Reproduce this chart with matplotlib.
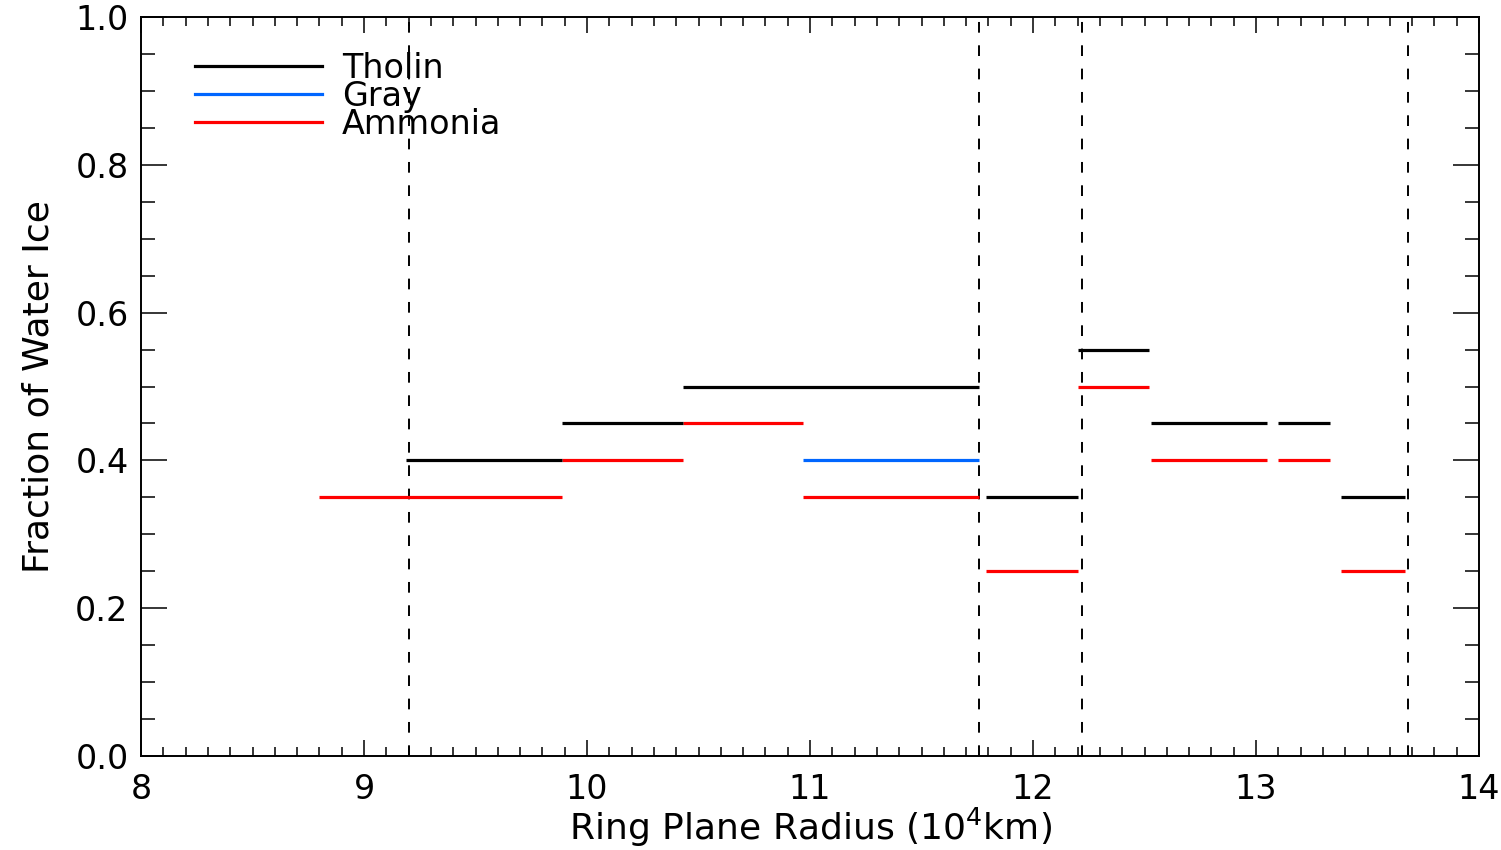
import matplotlib
matplotlib.use("Agg")
import matplotlib.pyplot as plt
from matplotlib.ticker import MultipleLocator
from matplotlib.lines import Line2D

plt.rcParams['font.family'] = ['DejaVu Sans']
plt.rcParams['mathtext.default'] = 'regular'

# segments: start radius, end radius, fraction of water ice
tholin_start = [9.19, 9.89, 10.43, 11.79, 12.20, 12.53, 13.10, 13.38]
tholin_end = [9.89, 10.43, 11.76, 12.20, 12.52, 13.05, 13.33, 13.67]
tholin_val = [0.40, 0.45, 0.50, 0.35, 0.55, 0.45, 0.45, 0.35]

gray_start = [10.97]
gray_end = [11.76]
gray_val = [0.40]

ammonia_start = [8.80, 9.89, 10.43, 10.97, 11.79, 12.20, 12.53, 13.10, 13.38]
ammonia_end = [9.89, 10.43, 10.97, 11.76, 12.20, 12.52, 13.05, 13.33, 13.67]
ammonia_val = [0.35, 0.40, 0.45, 0.35, 0.25, 0.50, 0.40, 0.40, 0.25]

# ring boundaries (dashed)
boundaries = [9.20, 11.76, 12.22, 13.68]

fs = 24
lfs = 26

fig = plt.figure(figsize=(15.01, 8.5), dpi=100)
ax = fig.add_axes([141 / 1501, 94 / 850, 1338 / 1501, 739 / 850])

for b in boundaries:
    ax.axvline(b, color='black', lw=1.4, linestyle=(0, (5.5, 6.5)))

ax.hlines(ammonia_val, ammonia_start, ammonia_end, color='#ff0000', lw=2.3)
ax.hlines(gray_val, gray_start, gray_end, color='#0066ff', lw=2.3)
ax.hlines(tholin_val, tholin_start, tholin_end, color='black', lw=2.3)

ax.set_xlim(8, 14)
ax.set_ylim(0, 1)
ax.xaxis.set_major_locator(MultipleLocator(1))
ax.xaxis.set_minor_locator(MultipleLocator(0.1))
ax.yaxis.set_major_locator(MultipleLocator(0.2))
ax.yaxis.set_minor_locator(MultipleLocator(0.05))
ax.yaxis.set_major_formatter(lambda v, p: "%.1f" % v)

ax.tick_params(which='both', direction='in', top=True, right=True, width=1.1, labelsize=fs)
ax.tick_params(axis='x', which='major', length=11.5, pad=12)
ax.tick_params(axis='x', which='minor', length=6.5)
ax.tick_params(axis='y', which='major', length=19, pad=9)
ax.tick_params(axis='y', which='minor', length=10)
for s in ax.spines.values():
    s.set_linewidth(1.4)

ax.set_xlabel(r'Ring Plane Radius (10$^{4}$km)', fontsize=lfs, labelpad=0)
ax.set_ylabel('Fraction of Water Ice', fontsize=lfs, labelpad=14)

handles = [Line2D([], [], color='black', lw=2.3),
           Line2D([], [], color='#0066ff', lw=2.3),
           Line2D([], [], color='#ff0000', lw=2.3)]
ax.legend(handles, ['Tholin', 'Gray', 'Ammonia'], loc='upper left',
          bbox_to_anchor=(0.0404, 0.953), frameon=False, fontsize=fs,
          borderpad=0, borderaxespad=0, handlelength=3.8, handletextpad=0.6,
          labelspacing=-0.15)

fig.savefig("out.png", dpi=100)
